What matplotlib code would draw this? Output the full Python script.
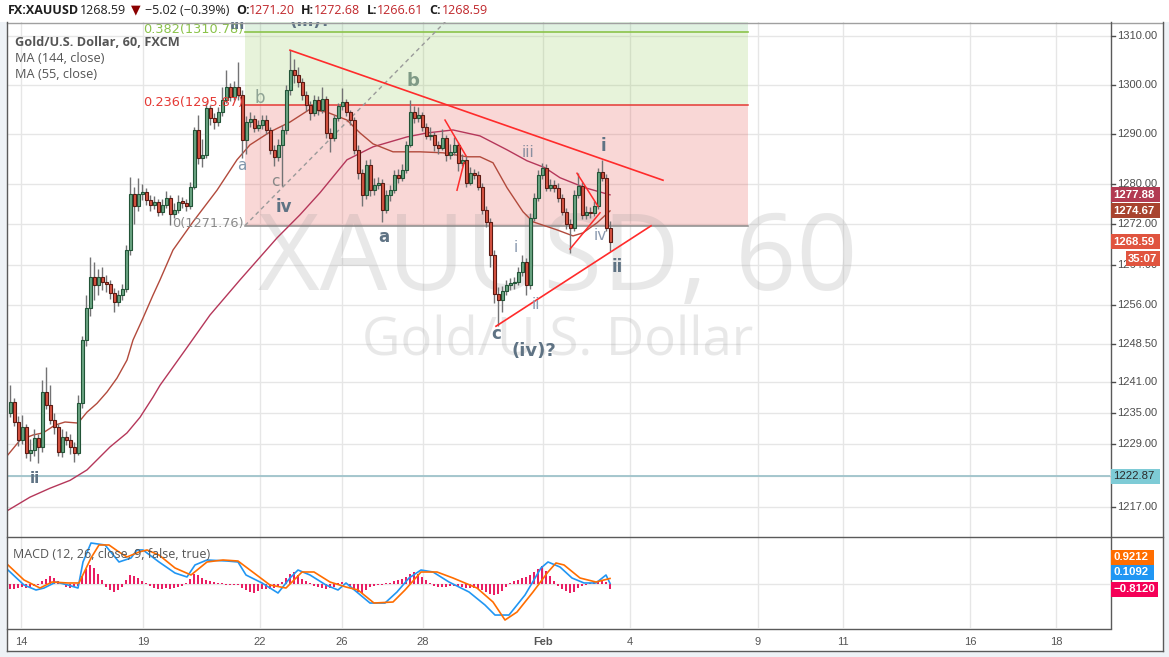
import numpy as np
import matplotlib
matplotlib.use("Agg")
import matplotlib.pyplot as plt
from matplotlib.patches import Rectangle
from matplotlib.lines import Line2D
from matplotlib.ticker import NullLocator

# ---------------- data (hourly bars, XAUUSD) ----------------
first_open = 1235.0
close = [
    1237.1, 1233.3, 1229.8, 1232.3, 1227.3, 1227.9, 1230.2, 1228.5, 1239.1, 1236.6,
    1233.7, 1232.3, 1227.5, 1230.4, 1229.8, 1228.5, 1227.3, 1236.9, 1249.2, 1255.5,
    1261.5, 1259.9, 1261.5, 1260.5, 1260.1, 1258.5, 1256.6, 1258.0, 1259.3, 1266.9,
    1278.1, 1275.7, 1278.1, 1278.5, 1276.9, 1275.9, 1276.5, 1274.5, 1275.9, 1277.3,
    1274.1, 1274.9, 1276.5, 1276.3, 1275.7, 1279.5, 1290.9, 1285.3, 1285.9, 1295.3,
    1293.3, 1292.5, 1294.5, 1297.0, 1299.6, 1297.6, 1299.6, 1298.0, 1288.9, 1292.5,
    1293.1, 1291.3, 1291.9, 1292.9, 1290.9, 1286.9, 1285.5, 1287.9, 1290.9, 1299.0,
    1303.0, 1302.0, 1300.6, 1298.0, 1296.0, 1294.3, 1297.0, 1294.9, 1297.2, 1290.3,
    1289.3, 1293.3, 1295.7, 1296.5, 1294.5, 1292.9, 1286.9, 1282.3, 1277.9, 1283.9,
    1278.9, 1279.9, 1280.3, 1274.9, 1277.9, 1278.9, 1281.9, 1281.3, 1282.9, 1287.9,
    1294.5, 1293.3, 1293.9, 1291.5, 1289.7, 1289.9, 1287.9, 1287.3, 1289.3, 1285.9,
    1286.5, 1287.9, 1284.3, 1284.9, 1280.3, 1282.3, 1281.9, 1279.5, 1274.9, 1272.5,
    1265.9, 1258.3, 1257.0, 1258.9, 1259.9, 1260.3, 1260.5, 1262.5, 1264.5, 1259.9,
    1273.3, 1277.3, 1281.9, 1283.3, 1279.3, 1279.9, 1279.3, 1277.3, 1274.5, 1272.1,
    1271.3, 1277.9, 1279.7, 1273.9, 1274.5, 1274.3, 1275.7, 1282.5, 1281.3, 1271.2,
    1268.59]
high = [
    1240.4, 1238.0, 1234.4, 1234.6, 1233.0, 1230.0, 1232.0, 1231.0, 1241.4, 1244.0,
    1240.5, 1235.0, 1233.0, 1232.0, 1231.5, 1231.0, 1229.5, 1238.5, 1250.0, 1258.0,
    1265.5, 1264.5, 1263.2, 1263.6, 1262.0, 1261.0, 1259.4, 1259.0, 1260.2, 1267.8,
    1281.5, 1279.5, 1281.2, 1280.0, 1279.2, 1277.8, 1277.6, 1277.0, 1277.0, 1278.6,
    1277.8, 1276.2, 1277.8, 1277.4, 1277.0, 1280.4, 1291.6, 1294.0, 1289.0, 1296.3,
    1296.0, 1294.4, 1295.6, 1299.6, 1303.0, 1300.5, 1300.8, 1304.7, 1299.0, 1293.8,
    1294.5, 1294.0, 1293.0, 1294.0, 1294.0, 1291.5, 1287.8, 1289.0, 1292.0, 1300.0,
    1307.1, 1305.4, 1303.6, 1301.4, 1298.8, 1296.8, 1298.0, 1297.8, 1299.6, 1297.8,
    1291.2, 1294.0, 1296.4, 1299.3, 1297.2, 1295.0, 1293.6, 1287.8, 1283.0, 1284.8,
    1285.0, 1281.2, 1281.4, 1281.0, 1278.8, 1279.8, 1282.8, 1283.0, 1284.0, 1288.6,
    1297.0, 1295.8, 1295.6, 1294.6, 1292.4, 1291.4, 1290.5, 1288.6, 1291.0, 1289.8,
    1288.0, 1289.4, 1288.4, 1286.0, 1285.6, 1283.4, 1283.0, 1282.6, 1280.2, 1275.6,
    1273.2, 1267.0, 1259.6, 1259.8, 1261.0, 1261.4, 1261.6, 1263.6, 1265.9, 1265.4,
    1274.2, 1278.2, 1282.8, 1284.3, 1284.0, 1281.0, 1280.8, 1280.2, 1278.0, 1275.2,
    1273.0, 1278.8, 1282.2, 1280.4, 1275.6, 1275.4, 1276.6, 1283.2, 1284.8, 1282.0,
    1272.68]
low = [
    1234.2, 1232.5, 1228.6, 1229.0, 1226.3, 1225.8, 1226.8, 1225.4, 1227.5, 1235.8,
    1233.0, 1231.0, 1226.8, 1226.5, 1228.8, 1227.2, 1225.6, 1226.9, 1236.0, 1248.0,
    1254.0, 1257.0, 1258.0, 1259.0, 1258.6, 1257.2, 1254.6, 1255.8, 1257.0, 1258.6,
    1266.0, 1272.0, 1274.6, 1276.8, 1275.8, 1274.6, 1275.0, 1273.6, 1273.8, 1275.2,
    1271.8, 1273.2, 1274.2, 1275.2, 1274.6, 1275.0, 1279.0, 1284.0, 1283.5, 1285.2,
    1292.0, 1291.0, 1291.8, 1293.8, 1296.3, 1296.8, 1296.9, 1297.0, 1285.2, 1286.0,
    1291.5, 1290.4, 1290.6, 1291.0, 1290.0, 1286.0, 1283.6, 1284.6, 1279.7, 1290.0,
    1298.0, 1300.5, 1299.6, 1297.0, 1294.8, 1293.0, 1293.8, 1294.0, 1294.3, 1289.2,
    1286.4, 1288.6, 1292.8, 1295.0, 1293.8, 1292.0, 1286.0, 1281.0, 1275.6, 1277.0,
    1277.6, 1277.8, 1279.0, 1272.4, 1274.2, 1276.6, 1278.2, 1280.2, 1280.6, 1282.3,
    1287.4, 1292.3, 1292.6, 1290.6, 1289.0, 1288.8, 1286.6, 1286.0, 1286.8, 1284.6,
    1285.0, 1285.8, 1282.6, 1283.6, 1279.4, 1279.8, 1281.0, 1278.8, 1274.0, 1271.4,
    1263.5, 1256.5, 1251.9, 1254.7, 1258.0, 1259.0, 1259.2, 1260.0, 1261.8, 1258.0,
    1259.3, 1272.6, 1276.6, 1281.0, 1278.6, 1278.6, 1278.4, 1276.4, 1273.8, 1271.0,
    1266.4, 1270.6, 1277.2, 1273.0, 1273.0, 1273.2, 1273.6, 1275.0, 1280.6, 1270.6,
    1266.61]

# moving averages (bar index, value)
ma55_t = [-0.5, 2.5, 5.75, 8.25, 11.25, 13.75, 17, 19.25, 21.75, 24.25, 26.75, 29.25,
          30.75, 33.25, 35.75, 37.5, 40.75, 45.75, 51.75, 56.75, 60, 65, 70, 75, 79.25,
          84.25, 87.5, 90.75, 95.75, 102.5, 108.25, 114.25, 117.5, 120.75, 124.25,
          128.25, 130.75, 136.75, 140.75, 143.25, 146.75, 150]
ma55_v = [1227.0, 1229.8, 1230.8, 1231.2, 1232.7, 1233.3, 1233.1, 1235.2, 1236.9, 1239.1,
          1241.8, 1245.3, 1249.2, 1253.5, 1258.0, 1261.0, 1266.9, 1272.5, 1278.8, 1284.9,
          1287.9, 1290.5, 1292.5, 1295.1, 1294.5, 1292.9, 1290.3, 1288.1, 1286.5, 1286.5,
          1286.3, 1285.5, 1285.5, 1284.3, 1279.3, 1274.5, 1272.5, 1270.9, 1269.7, 1270.3,
          1272.3, 1274.67]
ma144_t = [-0.5, 5, 10, 15, 19.25, 25, 29.25, 32.5, 35.75, 37.5, 43.75, 50, 57.5, 66.75,
           72.5, 77.5, 84.25, 90.75, 99.25, 104.25, 110.75, 117.5, 124.25, 129.25,
           133.75, 137.5, 143.75, 150]
ma144_v = [1216.4, 1218.9, 1220.6, 1222.1, 1224.1, 1228.5, 1231.2, 1234.2, 1238.1, 1240.4,
           1247.2, 1254.1, 1261.0, 1269.3, 1273.9, 1278.3, 1284.9, 1287.5, 1289.5, 1290.3,
           1290.9, 1289.7, 1286.9, 1284.7, 1283.3, 1281.3, 1279.3, 1277.88]

# MACD (12, 26, 9)
macd_t = [-0.5, 3.5, 6.5, 8.5, 11.5, 14.5, 17, 18.25, 20.25, 23.75, 27.25, 30.25, 31.75,
          33.25, 37.25, 41.25, 44.25, 46.25, 49.25, 54.25, 57, 59, 63, 67, 70, 72, 75, 79,
          82, 84, 87, 90, 93.75, 96.75, 99.75, 102.75, 105.75, 109.75, 114.75, 118.75,
          121.25, 124.75, 128.75, 132.75, 134.5, 137.5, 140.5, 143.5, 146.5, 149, 150]
macd_v = [2.33, -0.17, -1.0, -0.67, 0.33, -0.17, -0.67, 3.67, 6.83, 6.5, 3.67, 4.33, 5.67,
          5.67, 3.67, 1.83, 1.17, 3.17, 4.0, 3.83, 3.67, 1.5, 0.17, -1.5, 1.0, 2.33, 1.5,
          -0.17, -1.0, 0.17, -1.5, -3.17, -3.17, -1.33, 1.0, 2.33, 2.0, 0.33, -1.33, -3.5,
          -5.17, -5.17, -1.83, 2.67, 3.67, 2.83, 1.0, 0.17, 0.17, 1.5, 0.1092]
signal_t = [-0.5, 3.5, 7.5, 10.5, 14.5, 17.25, 20.25, 22.25, 24.75, 27.25, 29.25, 32.25,
            34.25, 37.25, 41.25, 45.25, 49.25, 53.25, 57, 61, 65, 69, 73, 76, 80, 84, 87,
            91, 95.75, 98.75, 102.75, 106.75, 110.75, 116.75, 120.75, 123.75, 126.75,
            130.75, 134.5, 136.5, 138.5, 142.5, 146.5, 150]
signal_v = [3.17, 0.67, -0.67, 0.33, 0.17, 0.17, 4.33, 6.5, 6.5, 5.33, 4.5, 5.33, 5.67,
            4.83, 2.67, 1.5, 3.67, 4.0, 3.83, 1.83, -0.17, -0.67, 2.0, 2.0, 0.33, -0.5,
            -1.0, -3.17, -3.0, -1.0, 2.0, 2.0, 1.0, -0.67, -3.0, -6.0, -4.67, -1.33, 2.0,
            3.5, 3.17, 1.0, 0.33, 0.9212]
hist_v = [
    -0.8, -0.8, -0.7, -0.5, -0.7, -0.5, -0.3, -0.2, 0.5, 0.8,
    1.3, 1.0, 0.5, 0.1, -0.5, -0.7, -0.5, -0.3, 1.3, 2.5,
    3.2, 2.7, 1.7, 0.7, -0.5, -1.0, -1.3, -1.0, -0.5, 0.7,
    1.5, 1.3, 1.0, 0.5, 0.2, -0.3, -0.7, -0.8, -0.8, -0.7,
    -0.8, -0.7, -0.5, -0.3, 0.2, 0.8, 1.7, 1.5, 1.0, 0.7,
    0.5, 0.3, 0.2, 0.1, -0.2, -0.2, -0.1, -0.2, -0.7, -1.0,
    -1.3, -1.5, -1.2, -0.8, -0.8, -0.8, -0.7, -0.5, 0.3, 1.0,
    1.7, 2.0, 1.5, 0.8, 0.5, 0.2, -0.3, -0.5, -0.7, -0.8,
    -0.7, -0.5, 0.2, 0.3, 0.2, -0.3, -0.8, -1.3, -1.5, -1.0,
    -0.5, -0.3, -0.2, -0.2, 0.1, 0.2, 0.5, 0.7, 0.8, 1.2,
    1.7, 2.0, 1.7, 1.2, 0.7, 0.2, -0.3, -0.5, -0.5, -0.5,
    -0.3, -0.3, -0.5, -0.5, -0.7, -0.7, -0.7, -0.8, -1.0, -1.3,
    -1.7, -1.8, -1.7, -1.2, -0.5, 0.2, 0.5, 0.7, 1.0, 1.2,
    1.5, 2.0, 2.5, 3.0, 2.2, 1.3, 0.5, -0.3, -0.8, -1.2,
    -1.5, -1.3, -0.7, -0.3, -0.2, 0.2, 0.3, 0.5, 0.7, 0.3,
    -0.812]

price_ticks = [1310, 1300, 1290, 1280, 1272, 1264, 1256, 1248.5, 1241, 1235, 1229, 1223, 1217]
date_labels = ["14", "19", "22", "26", "28", "Feb", "4", "9", "11", "16", "18"]
date_pos = [2.75, 33.25, 62.5, 83, 103.25, 133.25, 155, 187, 208.25, 240, 261.5]

fib_382, fib_236, fib_0 = 1310.78, 1295.87, 1271.76
fib_t0, fib_t1 = 58.75, 184.5
hline_level = 1222.87
ma144_last, ma55_last = 1277.88, 1274.67
last_close, change, change_pct = 1268.59, -5.02, -0.39
bar_open, bar_high, bar_low = 1271.20, 1272.68, 1266.61
macd_last, signal_last, hist_last = 0.1092, 0.9212, -0.8120

trend_upper = ([70, 163.25], [1307.1, 1280.8])
trend_lower = ([121.5, 160.25], [1251.9, 1271.7])
small_lines = [([108.75, 114], [1292.9, 1285.7]), ([111.75, 113.5], [1278.8, 1284.3]),
               ([141.75, 147], [1282.2, 1275.6]), ([140, 147.5], [1267.1, 1274.3])]
dashed_line = ([58.75, 112.5], [1271.76, 1316.0])

wave_labels = [  # text, bar index, price, bold, color, size
    ("ii", 6.25, 1222.5, True, "#5f7384", 11),
    ("iii", 56.75, 1312.3, True, "#5f7384", 11),
    ("(iii)?", 75, 1313.1, True, "#5f7384", 12),
    ("b", 62.5, 1297.4, False, "#8fa394", 12),
    ("a", 58.0, 1283.7, False, "#8096ab", 11),
    ("c", 66.25, 1280.6, False, "#888888", 11),
    ("iv", 68.5, 1275.4, True, "#5f7384", 12),
    ("b", 100.75, 1300.8, True, "#7f9a86", 13),
    ("a", 93.5, 1269.5, True, "#5f7384", 12),
    ("iii", 129.5, 1286.3, False, "#8a8fa0", 11),
    ("i", 148.25, 1287.7, True, "#5f7384", 12),
    ("iv", 147.5, 1269.7, False, "#8a9ab0", 11),
    ("ii", 151.75, 1263.6, True, "#5f7384", 12),
    ("i", 126.5, 1267.5, False, "#8a9ab0", 11),
    ("ii", 131.5, 1256.2, False, "#8a9ab0", 11),
    ("c", 121.5, 1250.3, True, "#5f7384", 12),
    ("(iv)?", 131, 1247.1, True, "#5f7384", 13),
]

# ---------------- figure ----------------
W, H = 1169, 657
fig = plt.figure(figsize=(W / 100, H / 100), dpi=100)
fig.patch.set_facecolor("#eef2f6")


def FX(px):
    return px / W


def FY(py):
    return 1 - py / H


fig.add_artist(Rectangle((0, FY(22)), 1, 22 / H, transform=fig.transFigure,
                         fc="white", ec="none", zorder=-5))
fig.add_artist(Rectangle((FX(7), FY(651)), (1163 - 7) / W, (651 - 22) / H,
                         transform=fig.transFigure, fc="white", ec="none", zorder=-5))

XL = (-0.75, 275)
ax = fig.add_axes([FX(7), FY(537), (1110 - 7) / W, (537 - 22) / H])
ax.set_facecolor("none")
ax.set_yscale("log")
ax.set_xlim(*XL)
ax.set_ylim(1211.33, 1312.87)
for s in ax.spines.values():
    s.set_visible(False)
ax.xaxis.set_major_locator(NullLocator())
ax.xaxis.set_minor_locator(NullLocator())
ax.yaxis.set_major_locator(NullLocator())
ax.yaxis.set_minor_locator(NullLocator())

GRID = "#e6e6e6"
for p in price_ticks:
    ax.axhline(p, color=GRID, lw=1, zorder=0.5)
for tpos in date_pos:
    ax.axvline(tpos, color=GRID, lw=1, zorder=0.5)

# watermark
ax.text(0.4995, 0.4796, "XAUUSD, 60", transform=ax.transAxes, ha="center", va="baseline",
        fontsize=77, family="Open Sans", color="#9a9a9a", alpha=0.22, zorder=0.7)
ax.text(0.4995, 0.3515, "Gold/U.S. Dollar", transform=ax.transAxes, ha="center",
        va="baseline", fontsize=38, family="Open Sans", color="#9a9a9a", alpha=0.22,
        zorder=0.7)

# fib zones
ax.add_patch(Rectangle((fib_t0, fib_382), fib_t1 - fib_t0, 20, fc="#4caf50", alpha=0.17,
                       ec="none", zorder=0.6))
ax.add_patch(Rectangle((fib_t0, fib_236), fib_t1 - fib_t0, fib_382 - fib_236, fc="#8bc34a",
                       alpha=0.2, ec="none", zorder=0.6))
ax.add_patch(Rectangle((fib_t0, fib_0), fib_t1 - fib_t0, fib_236 - fib_0, fc="#e53935",
                       alpha=0.2, ec="none", zorder=0.6))
ax.plot([fib_t0, fib_t1], [fib_382, fib_382], color="#8bc34a", lw=1.2, zorder=1)
ax.plot([fib_t0, fib_t1], [fib_236, fib_236], color="#e53935", lw=1.1, zorder=1)
ax.plot([fib_t0, fib_t1], [fib_0, fib_0], color="#8a8a8a", lw=1.1, zorder=1)
fs_fib = 9.3
ax.text(fib_t0 - 0.4, 1311.4, "0.382(1310.78)", color="#8bc34a", ha="right", va="center",
        fontsize=fs_fib, family="DejaVu Sans", zorder=6)
ax.text(fib_t0 - 0.4, 1296.4, "0.236(1295.87)", color="#e53935", ha="right", va="center",
        fontsize=fs_fib, family="DejaVu Sans", zorder=6)
ax.text(fib_t0 - 0.4, 1272.2, "0(1271.76)", color="#8a8a8a", ha="right", va="center",
        fontsize=fs_fib, family="DejaVu Sans", zorder=6)

# horizontal line
ax.axhline(hline_level, color="#9fc3cb", lw=1.3, zorder=1)

# dashed
ax.plot(*dashed_line, color="#9a9a9a", lw=1, ls=(0, (3, 2.5)), zorder=1.5)

# moving averages
ax.plot(ma144_t, ma144_v, color="#b5375a", lw=1.0, zorder=2)
ax.plot(ma55_t, ma55_v, color="#b24a3c", lw=1.0, zorder=2)

# candles
n = len(close)
t = np.arange(n)
c = np.array(close)
o = np.array([first_open] + close[:-1])
hi = np.array(high)
lo = np.array(low)
up = c >= o
ax.vlines(t, lo, hi, color="#737375", lw=1, zorder=3)
blo = np.minimum(o, c)
bh = np.maximum(np.abs(c - o), 0.25)
ax.bar(t[up], bh[up], bottom=blo[up], width=0.75, color="#6ba583", edgecolor="#225437",
       lw=0.8, zorder=4)
ax.bar(t[~up], bh[~up], bottom=blo[~up], width=0.75, color="#d75442", edgecolor="#5b1a13",
       lw=0.8, zorder=4)

# trend lines
ax.plot(*trend_upper, color="#ff2b2b", lw=1.2, zorder=5)
ax.plot(*trend_lower, color="#ff2b2b", lw=1.2, zorder=5)
for xs, ys in small_lines:
    ax.plot(xs, ys, color="#ff2b2b", lw=1.1, zorder=5)

# wave labels
for txt, tx, py, bold, col, sz in wave_labels:
    ax.text(tx, py, txt, ha="center", va="center", color=col, fontsize=sz,
            fontweight="bold" if bold else "normal", family="DejaVu Sans", zorder=6,
            clip_on=True)

# ---------------- MACD pane ----------------
axm = fig.add_axes([FX(7), FY(628), (1110 - 7) / W, (628 - 537) / H])
axm.set_facecolor("none")
axm.set_xlim(*XL)
axm.set_ylim(-7.33, 7.83)
for s in axm.spines.values():
    s.set_visible(False)
axm.set_xticks([])
axm.set_yticks([])
for tpos in date_pos:
    axm.axvline(tpos, color=GRID, lw=1, zorder=0.5)
axm.axhline(0, color=GRID, lw=1, zorder=0.5)
axm.bar(t, hist_v, width=0.38, color="#e91e63", zorder=2)
axm.plot(macd_t, macd_v, color="#2196f3", lw=1.2, zorder=3)
axm.plot(signal_t, signal_v, color="#ff6d00", lw=1.2, zorder=3)
axm.text(0.0055, 0.81, "MACD (12, 26, close, 9, false, true)", transform=axm.transAxes,
         fontsize=9, family="Open Sans", color="#555555", va="center", ha="left", zorder=6)

# ---------------- frame lines ----------------
def fline(x0, y0, x1, y1, col="#5a5a5a", lw=1.0):
    fig.add_artist(Line2D([FX(x0), FX(x1)], [FY(y0), FY(y1)], transform=fig.transFigure,
                          color=col, lw=lw, zorder=8))


fline(7, 22.5, 1163, 22.5, "#a0a0a0")
fline(7, 22, 7, 651)
fline(1110.5, 22, 1110.5, 628)
fline(7, 537, 1163, 537)
fline(7, 628.5, 1110.5, 628.5)
fline(1163, 22, 1163, 651)
fline(7, 651, 1163, 651)

# ---------------- right price axis ----------------
def ypix(axis, v):
    return H - axis.transData.transform((0, v))[1]


AXC = "#4d4d4d"
for p in price_ticks:
    yy = ypix(ax, p)
    fline(1110.5, yy, 1114.5, yy, AXC)
    fig.text(FX(1117), FY(yy), f"{p:.2f}", fontsize=8, family="Liberation Sans", color=AXC,
             va="center", ha="left", zorder=7)


def price_box(yy, text, fc, tc="white", x0=1111, x1=1160, bold=True):
    fig.add_artist(Rectangle((FX(x0), FY(yy + 7.5)), (x1 - x0) / W, 15 / H,
                             transform=fig.transFigure, fc=fc, ec="none", zorder=9))
    fig.text(FX(x0 + 2), FY(yy), text, fontsize=8.2, family="Liberation Sans", color=tc,
             fontweight="bold" if bold else "normal", va="center", ha="left", zorder=10)


price_box(ypix(ax, ma144_last), f"{ma144_last:.2f}", "#b23a52")
price_box(ypix(ax, ma55_last), f"{ma55_last:.2f}", "#a8432f")
y_lc = ypix(ax, last_close)
price_box(y_lc, f"{last_close:.2f}", "#e0543f")
price_box(y_lc + 17, "35:07", "#e0543f", x0=1126)
price_box(ypix(ax, hline_level), f"{hline_level:.2f}", "#7ecbd6", tc="#2a2a2a", bold=False)
price_box(557, f"{signal_last:.4f}", "#ff6d00", x1=1154)
price_box(572, f"{macd_last:.4f}", "#2196f3", x1=1154)
price_box(589, f"\u2212{abs(hist_last):.4f}", "#f50057", x1=1158)

# ---------------- time axis ----------------
for lab, tpos in zip(date_labels, date_pos):
    xx = ax.transData.transform((tpos, 1250))[0]
    fig.text(xx / W, FY(642), lab, fontsize=8, family="Liberation Sans", color="#555555",
             ha="center", va="center", fontweight="bold" if lab == "Feb" else "normal")

# ---------------- header & legend ----------------
HF = ["Open Sans", "DejaVu Sans"]
hy = FY(10)


def htext(x, s, col="#1e1e1e", bold=False):
    fig.text(FX(x), hy, s, fontsize=9, family=HF, color=col, va="center", ha="left",
             fontweight="bold" if bold else "normal")


RED = "#c0262b"
htext(8, "FX:XAUUSD", bold=True)
htext(80, f"{last_close:.2f}")
htext(131, "\u25bc", col="#8b0000")
htext(145, f"\u2212{abs(change):.2f} (\u2212{abs(change_pct):.2f}%)")
htext(236, "O:", bold=True)
htext(249, f"{bar_open:.2f}", col=RED)
htext(301, "H:", bold=True)
htext(314, f"{bar_high:.2f}", col=RED)
htext(367, "L:", bold=True)
htext(377, f"{bar_low:.2f}", col=RED)
htext(429, "C:", bold=True)
htext(442, f"{last_close:.2f}", col=RED)

fig.text(FX(15), FY(42), "Gold/U.S. Dollar, 60, FXCM", fontsize=9.2, family="Open Sans",
         color="#555555", fontweight="bold", va="center", ha="left", zorder=7)
fig.text(FX(15), FY(58), "MA (144, close)", fontsize=9.2, family="Open Sans",
         color="#555555", va="center", ha="left", zorder=7)
fig.text(FX(15), FY(75), "MA (55, close)", fontsize=9.2, family="Open Sans",
         color="#555555", va="center", ha="left", zorder=7)

fig.savefig("out.png", dpi=100, facecolor=fig.get_facecolor())
